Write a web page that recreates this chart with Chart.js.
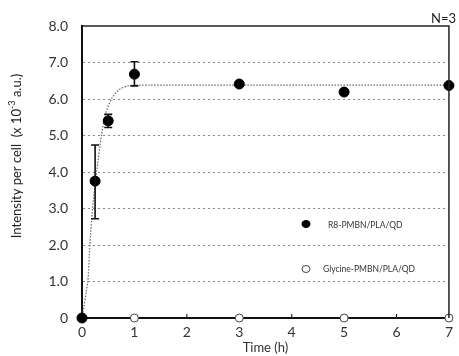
<!DOCTYPE html>
<html>
<head>
<meta charset="utf-8">
<script src="https://cdn.jsdelivr.net/npm/chart.js@4"></script>
<style>
  html, body { margin: 0; padding: 0; background: #fff; }
  #wrap { width: 459px; height: 356px; }
</style>
</head>
<body>
<div id="wrap"><canvas id="chart"></canvas></div>
<script>
// data
const times = [0, 0.25, 0.5, 1, 3, 5, 7];
const r8Values = [0, 3.75, 5.4, 6.68, 6.41, 6.19, 6.37];
const r8ErrLow = [0, 2.72, 5.22, 6.36, 6.37, 6.16, 6.34];
const r8ErrHigh = [0, 4.74, 5.58, 7.02, 6.45, 6.22, 6.4];
const glyTimes = [0, 1, 3, 5, 7];
const glyValues = [0, 0, 0, 0, 0];
const fitTimes = [0, 0.11, 0.15, 0.2, 0.28, 0.37, 0.45, 0.56, 0.7, 0.85, 1, 7];
const fitValues = [0, 1, 2, 3, 4, 5, 5.6, 6.0, 6.25, 6.35, 6.38, 6.38];
const yTicks = [0, 1, 2, 3, 4, 5, 6, 7, 8];
const xTicks = [0, 1, 2, 3, 4, 5, 6, 7];

const FONT = "Lato, 'DejaVu Sans', sans-serif";

const pts = (xs, ys) => xs.map((x, i) => ({ x: x, y: ys[i] }));

// error bars, frame, legend and extra labels
const extras = {
  id: "extras",
  afterDatasetsDraw(chart) {
    const ctx = chart.ctx;
    const xs = chart.scales.x, ys = chart.scales.y;
    const a = chart.chartArea;
    ctx.save();
    // error bars
    ctx.strokeStyle = "#111";
    ctx.lineWidth = 1.6;
    times.forEach((t, i) => {
      if (r8ErrHigh[i] - r8ErrLow[i] < 0.2) return;
      const px = xs.getPixelForValue(t);
      const top = ys.getPixelForValue(r8ErrHigh[i]);
      const bot = ys.getPixelForValue(r8ErrLow[i]);
      ctx.beginPath();
      ctx.moveTo(px, top); ctx.lineTo(px, bot);
      ctx.moveTo(px - 4, top); ctx.lineTo(px + 4, top);
      ctx.moveTo(px - 4, bot); ctx.lineTo(px + 4, bot);
      ctx.stroke();
    });
    // frame top and right
    ctx.strokeStyle = "#222";
    ctx.lineWidth = 1.5;
    ctx.beginPath();
    ctx.moveTo(a.left, a.top); ctx.lineTo(a.right, a.top); ctx.lineTo(a.right, a.bottom);
    ctx.stroke();
    // inward ticks on x
    ctx.lineWidth = 1.2;
    [2, 4, 6].forEach(t => {
      const px = xs.getPixelForValue(t);
      ctx.beginPath();
      ctx.moveTo(px, a.bottom); ctx.lineTo(px, a.bottom - 4);
      ctx.stroke();
    });
    // legend
    ctx.fillStyle = "#000";
    ctx.beginPath(); ctx.ellipse(306, 224, 4.5, 4, 0, 0, Math.PI * 2); ctx.fill();
    ctx.strokeStyle = "#444"; ctx.lineWidth = 1;
    ctx.beginPath(); ctx.ellipse(306, 269, 4, 3.5, 0, 0, Math.PI * 2); ctx.stroke();
    ctx.fillStyle = "#333";
    ctx.font = "8.5px " + FONT;
    ctx.textBaseline = "middle";
    ctx.textAlign = "left";
    ctx.fillText("R8-PMBN/PLA/QD", 328, 225);
    ctx.fillText("Glycine-PMBN/PLA/QD", 323, 269);
    // N=3
    ctx.font = "13px " + FONT;
    ctx.textAlign = "right";
    ctx.textBaseline = "alphabetic";
    ctx.fillStyle = "#222";
    ctx.fillText("N=3", 456, 23);
    // y title
    ctx.translate(17, 156);
    ctx.rotate(-Math.PI / 2);
    ctx.textAlign = "left";
    ctx.textBaseline = "middle";
    const big = "13px " + FONT, small = "9px " + FONT;
    const t1 = "Intensity per cell  (x 10";
    const t2 = "-3";
    const t3 = " a.u.)";
    ctx.font = big;
    const w1 = ctx.measureText(t1).width;
    ctx.font = small;
    const w2 = ctx.measureText(t2).width;
    ctx.font = big;
    const w3 = ctx.measureText(t3).width;
    let x0 = -(w1 + w2 + w3) / 2;
    ctx.fillText(t1, x0, 0);
    ctx.font = small;
    ctx.fillText(t2, x0 + w1, -5);
    ctx.font = big;
    ctx.fillText(t3, x0 + w1 + w2, 0);
    ctx.restore();
  }
};

new Chart(document.querySelector("#chart"), {
  type: "scatter",
  data: {
    datasets: [
      {
        label: "R8-PMBN/PLA/QD",
        data: pts(times, r8Values),
        backgroundColor: "#000",
        borderColor: "#000",
        pointRadius: 5,
        clip: false,
        order: 0,
      },
      {
        label: "Glycine-PMBN/PLA/QD",
        data: pts(glyTimes, glyValues),
        backgroundColor: "#fff",
        borderColor: "#444",
        borderWidth: 1,
        pointRadius: 4,
        clip: false,
        order: 1,
      },
      {
        label: "fit",
        data: pts(fitTimes, fitValues),
        showLine: true,
        borderColor: "#666",
        borderWidth: 1.2,
        borderDash: [1.5, 1.5],
        pointRadius: 0,
        tension: 0.2,
        clip: false,
        order: 2,
      },
    ],
  },
  options: {
    responsive: true,
    maintainAspectRatio: false,
    animation: false,
    layout: { padding: { top: 26, right: 4, left: 0, bottom: 0 } },
    plugins: {
      legend: { display: false },
      tooltip: { enabled: false },
    },
    scales: {
      x: {
        type: "linear",
        min: 0,
        max: 7,
        afterBuildTicks: (s) => { s.ticks = xTicks.map(v => ({ value: v })); },
        afterFit: (s) => { s.height = 38; },
        grid: { display: false, drawTicks: false },
        border: { color: "#111", width: 2 },
        ticks: {
          padding: 6,
          color: "#333",
          font: { family: FONT, size: 14 },
        },
        title: {
          display: true,
          text: "Time (h)",
          color: "#333",
          padding: { top: 0, bottom: 0 },
          font: { family: FONT, size: 13 },
        },
      },
      y: {
        min: 0,
        max: 8,
        afterBuildTicks: (s) => { s.ticks = yTicks.map(v => ({ value: v })); },
        afterFit: (s) => { s.width = 82; },
        grid: {
          color: (c) => (c.tick && (c.tick.value === 0 || c.tick.value === 8)) ? "rgba(0,0,0,0)" : "#888",
          lineWidth: 1,
          drawTicks: false,
        },
        border: { color: "#111", width: 2, dash: [2, 3] },
        ticks: {
          padding: 14,
          color: "#333",
          font: { family: FONT, size: 14 },
          callback: (v) => v === 0 ? "0" : v.toFixed(1),
        },
      },
    },
  },
  plugins: [extras],
});
</script>
</body>
</html>
